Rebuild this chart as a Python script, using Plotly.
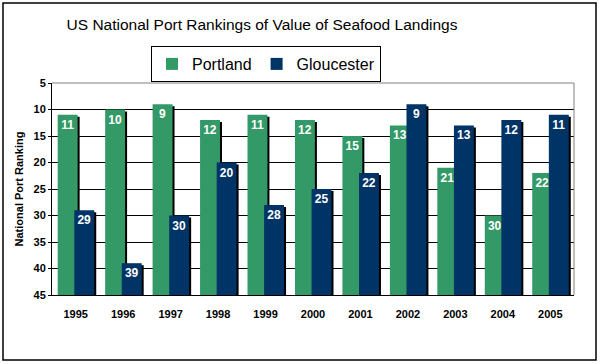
import plotly.graph_objects as go

# ---- data ----
years = ["1995", "1996", "1997", "1998", "1999", "2000", "2001", "2002", "2003", "2004", "2005"]
portland = [11, 10, 9, 12, 11, 12, 15, 13, 21, 30, 22]
gloucester = [29, 39, 30, 20, 28, 25, 22, 9, 13, 12, 11]
y_ticks = [5, 10, 15, 20, 25, 30, 35, 40, 45]

BASE = 45          # bottom of the (reversed) ranking axis
TOP = 5
GREEN = "#339966"
NAVY = "#003366"
FONT = "Arial, Liberation Sans, sans-serif"

# layout geometry in pixels (600 x 364 canvas)
W, H = 600, 364
L, R, T, B = 52, 26, 83, 69
pw, ph = W - L - R, H - T - B
cat_px = pw / len(years)
unit_px = ph / (BASE - TOP)
shadow_dx = 2 / cat_px
shadow_dy = 2 / unit_px

bar_w = 0.42
off_p = -0.38
off_g = -0.03

fig = go.Figure()

# drop shadows (drawn on an underlying axis shifted 2px down)
for vals, off in ((portland, off_p), (gloucester, off_g)):
    fig.add_trace(go.Bar(
        x=years, y=[v - BASE for v in vals], base=BASE,
        width=bar_w, offset=off + shadow_dx,
        marker=dict(color="#000000", line=dict(width=0)),
        showlegend=False, hoverinfo="skip", yaxis="y",
    ))

for name, vals, col, off in (("Portland", portland, GREEN, off_p),
                             ("Gloucester", gloucester, NAVY, off_g)):
    fig.add_trace(go.Bar(
        name=name, x=years, y=[v - BASE for v in vals], base=BASE,
        width=bar_w, offset=off,
        marker=dict(color=col, line=dict(width=0)),
        text=[str(v) for v in vals], textposition="inside",
        insidetextanchor="end", textangle=0, constraintext="none",
        insidetextfont=dict(color="white", size=12, family=FONT, weight="bold"),
        yaxis="y2", hovertemplate="%{x}: %{text}<extra>" + name + "</extra>",
    ))

fig.update_layout(
    template="none",
    width=W, height=H,
    margin=dict(l=L, r=R, t=T, b=B, autoexpand=False),
    paper_bgcolor="white", plot_bgcolor="white",
    barmode="overlay",
    font=dict(family=FONT, color="black"),
    title=dict(text="US National Port Rankings of Value of Seafood Landings",
               font=dict(size=15.5, family=FONT, color="black"),
               x=262 / W, xref="container", xanchor="center",
               y=1 - 25 / H, yref="container", yanchor="middle"),
    legend=dict(orientation="h", x=266 / W, xref="container", xanchor="center",
                y=1 - 46 / H, yref="container", yanchor="top",
                bordercolor="black", borderwidth=1, bgcolor="white",
                font=dict(size=16, family=FONT, color="black"),
                itemsizing="constant", traceorder="normal"),
    xaxis=dict(type="category", showgrid=False, showline=True, linecolor="black",
               linewidth=1, ticks="outside", ticklen=0, ticklabelstandoff=9,
               tickfont=dict(size=11, family=FONT, weight="bold"),
               automargin=False, fixedrange=True),
    yaxis=dict(range=[BASE - shadow_dy, TOP - shadow_dy], showgrid=False,
               showticklabels=False, showline=False, ticks="", zeroline=False,
               automargin=False, fixedrange=True),
    yaxis2=dict(range=[BASE, TOP], overlaying="y", side="left",
                tickvals=y_ticks, showgrid=True, gridcolor="black", gridwidth=1,
                showline=True, linecolor="black", linewidth=1,
                ticks="outside", ticklen=3, tickcolor="black", zeroline=False,
                tickfont=dict(size=11, family=FONT, weight="bold"),
                title=dict(text="National Port Ranking", standoff=7,
                           font=dict(size=11, family=FONT, weight="bold")),
                automargin=False, fixedrange=True),
    shapes=[
        # plot-area frame: grey top and right edges
        dict(type="line", xref="paper", yref="paper", x0=0, x1=1, y0=1, y1=1,
             line=dict(color="#808080", width=1), layer="above"),
        dict(type="line", xref="paper", yref="paper", x0=1, x1=1, y0=0, y1=1,
             line=dict(color="#808080", width=1), layer="above"),
        # outer chart border
        dict(type="rect", xref="paper", yref="paper",
             x0=(3 - L) / pw, x1=(596 - L) / pw,
             y0=(H - B - 360) / ph, y1=(H - B - 3) / ph,
             line=dict(color="black", width=1.5)),
    ],
)

fig.write_html(
    "out.html",
    config={"displayModeBar": False},
    post_script="document.body.style.margin='0';document.body.style.padding='0';"
                "document.documentElement.style.overflow='hidden';",
)
